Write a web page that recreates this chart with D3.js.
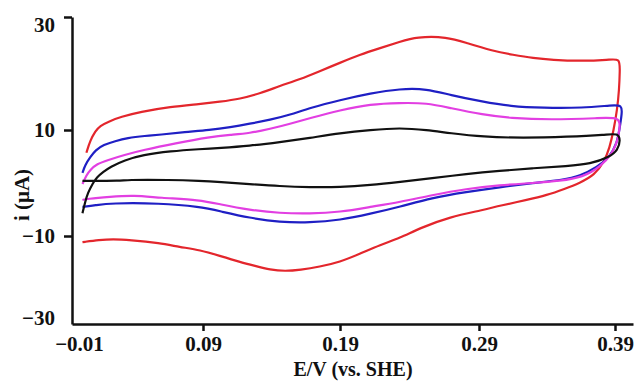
<!DOCTYPE html>
<html>
<head>
<meta charset="utf-8">
<script src="https://cdn.jsdelivr.net/npm/d3@7"></script>
<style>
  html, body { margin: 0; padding: 0; background: #fff; }
  svg { display: block; }
  .axis text { font-family: "Liberation Serif", "Times New Roman", serif; font-weight: bold; font-size: 21px; fill: #111; }
  .axis path, .axis line { stroke: #111; stroke-width: 2.5px; }
</style>
</head>
<body>
<svg id="chart" width="636" height="382"></svg>
<script>
// ---- data (E in V vs. SHE, i in µA) ----
const xTicks = [-0.01, 0.09, 0.19, 0.29, 0.39];
const yTicks = [-30, -10, 10, 30];

const redE = [0.001,0.004,0.008,0.011,0.019,0.027,0.042,0.065,0.088,0.102,0.117,0.132,0.146,0.161,0.175,0.190,0.204,0.219,0.233,0.245,0.267,0.281,0.300,0.315,0.330,0.344,0.364,0.386,0.3935,
  0.3935,0.393,0.3915,0.389,0.386,0.382,0.375,0.364,0.353,0.340,0.325,0.305,0.293,0.269,0.2475,0.233,0.219,0.204,0.190,0.175,0.161,0.150,0.139,0.128,0.117,0.102,0.088,0.072,0.057,0.034,0.021,0.011,-0.002];
const redI = [5.7,8.1,9.8,10.7,11.6,12.3,13.2,14.1,14.6,15.0,15.5,16.5,17.8,19.0,20.4,21.9,23.3,24.5,25.6,26.5,26.5,25.4,24.0,23.3,22.7,22.4,22.2,22.4,22.7,
  20.6,17.1,13.5,10.0,6.6,4.0,1.5,0.0,-1.1,-2.3,-3.2,-4.3,-5.1,-6.4,-8.5,-10.5,-12.0,-14.1,-15.9,-17.0,-17.7,-18.0,-17.7,-16.8,-15.9,-14.5,-13.2,-12.5,-11.6,-10.9,-10.7,-10.9,-11.4];

const blueE = [-0.002,0.000,0.004,0.008,0.014,0.023,0.032,0.046,0.057,0.076,0.095,0.110,0.124,0.139,0.1535,0.168,0.190,0.212,0.233,0.2525,0.269,0.293,0.313,0.337,0.3665,0.3885,0.395,
  0.395,0.3935,0.3915,0.386,0.377,0.364,0.352,0.330,0.305,0.281,0.256,0.233,0.212,0.190,0.168,0.146,0.124,0.102,0.088,0.057,0.019,0.008,-0.002];
const blueI = [1.9,3.4,4.9,6.2,7.2,7.9,8.5,8.9,9.1,9.6,10.0,10.5,11.1,11.8,12.7,13.9,15.3,16.5,17.3,17.3,16.2,15.0,14.2,13.9,13.9,14.4,14.4,
  13.0,10.5,7.5,4.9,3.0,1.3,0.6,0.0,-0.8,-1.7,-2.8,-4.5,-5.8,-7.0,-7.5,-7.4,-6.6,-5.3,-4.5,-3.8,-3.8,-4.2,-4.5];

const magentaE = [-0.002,0.001,0.004,0.009,0.017,0.030,0.044,0.069,0.095,0.110,0.124,0.139,0.1535,0.168,0.190,0.212,0.233,0.2525,0.269,0.293,0.313,0.342,0.379,0.3935,
  0.3935,0.392,0.3885,0.379,0.3665,0.3496,0.330,0.305,0.281,0.256,0.233,0.212,0.190,0.168,0.146,0.124,0.102,0.088,0.057,0.037,0.019,0.001,-0.002];
const magentaI = [-0.2,1.5,2.5,3.6,4.3,5.3,6.2,7.5,8.7,9.1,9.4,10.2,11.1,12.1,13.5,14.6,14.8,14.8,13.9,12.7,12.1,11.8,12.1,12.3,
  10.5,8.1,5.7,3.0,1.1,0.4,0.0,-0.4,-1.1,-2.3,-3.6,-4.5,-5.5,-5.8,-5.7,-5.1,-4.0,-3.2,-2.8,-2.3,-2.6,-3.0,-3.2];

const blackE = [-0.002,0.000,0.002,0.006,0.009,0.014,0.019,0.030,0.044,0.065,0.088,0.102,0.124,0.146,0.168,0.190,0.212,0.233,0.2525,0.269,0.293,0.322,0.355,0.384,0.392,
  0.394,0.392,0.386,0.372,0.355,0.330,0.305,0.281,0.256,0.233,0.212,0.190,0.168,0.146,0.124,0.102,0.088,0.065,0.030,0.029,-0.002];
const blackI = [-5.7,-3.6,-1.9,0.0,1.1,2.1,3.0,4.3,5.3,6.0,6.4,6.6,7.0,7.7,8.5,9.4,10.0,10.4,10.0,9.4,8.7,8.5,8.7,9.1,9.4,
  8.1,6.2,4.9,3.6,3.2,2.8,2.3,1.7,0.9,0.2,-0.4,-0.8,-0.8,-0.6,-0.2,0.2,0.4,0.6,0.6,0.4,0.4];

const seriesNames = ["red", "blue", "magenta", "black"];
const seriesColors = ["#e3262c", "#1f1fc4", "#e23fe2", "#111111"];

// ---- chart ----
const svg = d3.select("#chart");

const x = d3.scaleLinear()
  .domain([-0.01, 0.09, 0.19, 0.29, 0.39, 0.403])
  .range([72, 203, 340, 479, 615, 633]);
const y = d3.scaleLinear()
  .domain([-30, -10, 10, 30])
  .range([324, 236, 130, 17]);

const series = [
  d3.zip(redE, redI),
  d3.zip(blueE, blueI),
  d3.zip(magentaE, magentaI),
  d3.zip(blackE, blackI)
];

const line = d3.line()
  .x(d => x(d[0]))
  .y(d => y(d[1]))
  .curve(d3.curveBasis);

svg.append("g").selectAll("path")
  .data(series)
  .join("path")
  .attr("d", line)
  .attr("fill", "none")
  .attr("stroke", (d, i) => seriesColors[i])
  .attr("stroke-width", 2.2)
  .attr("stroke-linejoin", "round");

// x axis
const gx = svg.append("g")
  .attr("class", "axis")
  .attr("transform", `translate(0,${y(-30)})`)
  .call(d3.axisBottom(x).tickValues(xTicks).tickFormat(d3.format(".2f")).tickSize(7).tickSizeOuter(0).tickPadding(5));
gx.selectAll(".tick").filter(d => d === -0.01).select("line").remove();
gx.selectAll(".tick").filter(d => d === -0.01).select("text").attr("dx", 7);

// y axis
const gy = svg.append("g")
  .attr("class", "axis")
  .attr("transform", `translate(${x(-0.01)},0)`)
  .call(d3.axisLeft(y).tickValues(yTicks).tickFormat(d3.format("d")).tickSize(8).tickSizeOuter(0).tickPadding(9));
gy.selectAll(".tick").filter(d => d === -30).select("line").remove();
gy.selectAll(".tick").filter(d => d === 30).select("text").attr("dy", "0.7em");
gy.selectAll(".tick").filter(d => d === -30).select("text").attr("dy", "0.0em");

// axis titles
svg.append("text")
  .attr("x", 353).attr("y", 376)
  .attr("text-anchor", "middle")
  .style("font-family", "'Liberation Serif', 'Times New Roman', serif")
  .style("font-weight", "bold").style("font-size", "20px").attr("fill", "#111")
  .text("E/V (vs. SHE)");

svg.append("text")
  .attr("transform", "translate(29,195) rotate(-90)")
  .attr("text-anchor", "middle")
  .style("font-family", "'Liberation Serif', 'Times New Roman', serif")
  .style("font-weight", "bold").style("font-size", "21px").attr("fill", "#111")
  .text("i (μA)");
</script>
</body>
</html>
